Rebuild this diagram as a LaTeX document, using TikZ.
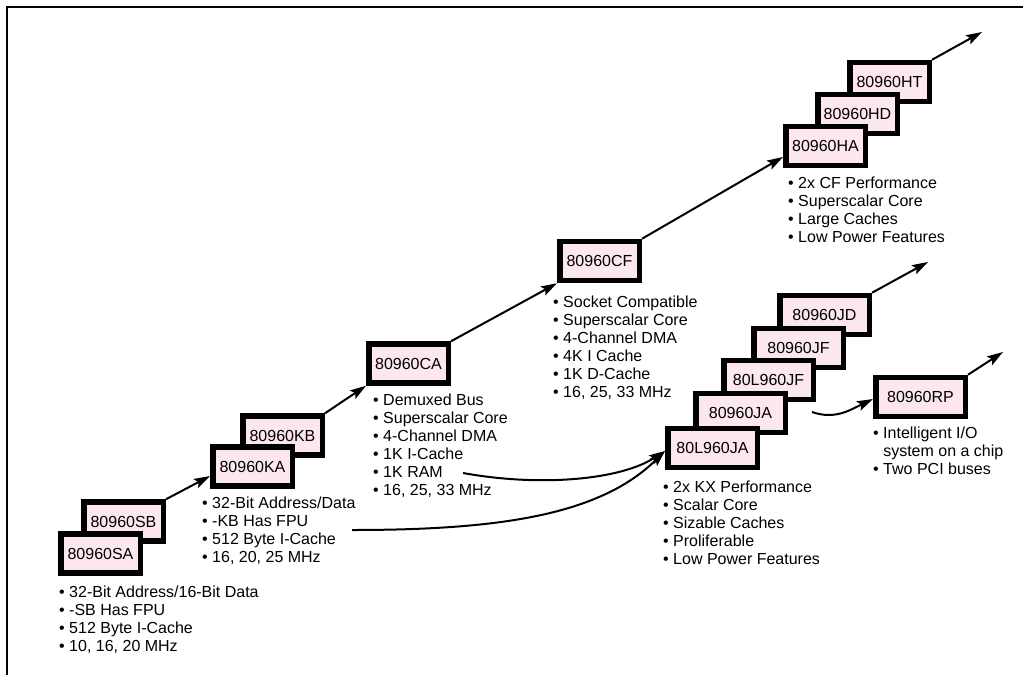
\documentclass[tikz,border=0pt]{standalone}
\usepackage{fontspec}
\setmainfont{Liberation Sans}
\usetikzlibrary{arrows.meta}
\definecolor{chip}{RGB}{252,230,239}
\newcommand\fsz{\fontsize{16}{18}\selectfont}
\begin{document}
\begin{tikzpicture}[x=1pt,y=-1pt,
  chipbox/.style={draw=black, line width=5.5pt, fill=chip, inner sep=0pt, outer sep=2.75pt,
    minimum width=79.5pt, minimum height=39pt, font=\fsz},
  widebox/.style={chipbox, minimum width=89.5pt},
  flow/.style={line width=2pt, -{Stealth[length=16pt,width=10pt,inset=3pt]}},
  notes/.style={anchor=north west, inner sep=0pt, align=left, font=\fsz},
  frameline/.style={line width=2.5pt}]
\useasboundingbox (0,0) rectangle (1023,675);
\fill[white] (0,0) rectangle (1023,675);
\draw[frameline] (7,675) -- (7,7) -- (1023,7);

% boxes (upper ones first)
\node[chipbox] (SB) at (123.5,521.5) {80960SB};
\node[chipbox] (SA) at (100.5,553.5) {80960SA};
\node[chipbox] (KB) at (282.5,435.5) {80960KB};
\node[chipbox] (KA) at (252.5,466.5) {80960KA};
\node[chipbox] (CA) at (408.5,363.5) {80960CA};
\node[chipbox] (CF) at (599.5,261) {80960CF};
\node[chipbox] (HT) at (889.5,82) {80960HT};
\node[chipbox] (HD) at (857.5,114) {80960HD};
\node[chipbox] (HA) at (825.5,146) {80960HA};
\node[widebox] (JD) at (824.5,315) {80960JD};
\node[widebox] (JF) at (798.5,348) {80960JF};
\node[widebox] (LJF) at (768.5,380) {80L960JF};
\node[widebox] (JA) at (740.5,413) {80960JA};
\node[widebox] (LJA) at (712.5,448) {80L960JA};
\node[widebox] (RP) at (920.5,397) {80960RP};

% notes
\node[notes] (nSA) at (59,586) {• 32-Bit Address/16-Bit Data\\• -SB Has FPU\\• 512 Byte I-Cache\\• 10, 16, 20 MHz};
\node[notes] (nKA) at (202,497) {• 32-Bit Address/Data\\• -KB Has FPU\\• 512 Byte I-Cache\\• 16, 20, 25 MHz};
\node[notes] (nCA) at (373,394) {• Demuxed Bus\\• Superscalar Core\\• 4-Channel DMA\\• 1K I-Cache\\• 1K RAM\\• 16, 25, 33 MHz};
\node[notes] (nCF) at (553,296) {• Socket Compatible\\• Superscalar Core\\• 4-Channel DMA\\• 4K I Cache\\• 1K D-Cache\\• 16, 25, 33 MHz};
\node[notes] (nHA) at (788,177) {• 2x CF Performance\\• Superscalar Core\\• Large Caches\\• Low Power Features};
\node[notes] (nJA) at (663,481) {• 2x KX Performance\\• Scalar Core\\• Sizable Caches\\• Proliferable\\• Low Power Features};
\node[notes] (nRP) at (873,427) {• Intelligent I/O\\\phantom{•~}system on a chip\\• Two PCI buses};

% free ends
\coordinate (c1) at (463,473);
\coordinate (c2) at (352,530);
\coordinate (c3) at (812,412);
\coordinate (eHT) at (982,32);
\coordinate (eJD) at (928,262);
\coordinate (eRP) at (1003,352);

% connectors
\draw[flow] (SB.north east) -- ([yshift=-9.5pt]KA.west);
\draw[flow] (KB.north east) -- (CA.south west);
\draw[flow] (CA.north east) -- (CF.south west);
\draw[flow] (CF.north east) -- ([yshift=-11pt]HA.west);
\draw[flow] (HT.north east) -- (eHT);
\draw[flow] (JD.north east) -- (eJD);
\draw[flow] (RP.north east) -- (eRP);
\draw[flow] (c1) .. controls (540,487) and (620,480) .. ([yshift=-3pt]LJA.west);
\draw[flow] (c2) .. controls (500,530) and (600,515) .. ([yshift=-3pt]LJA.west);
\draw[flow] (c3) .. controls (835,420) and (850,410) .. ([yshift=-2pt]RP.west);
\end{tikzpicture}
\end{document}
